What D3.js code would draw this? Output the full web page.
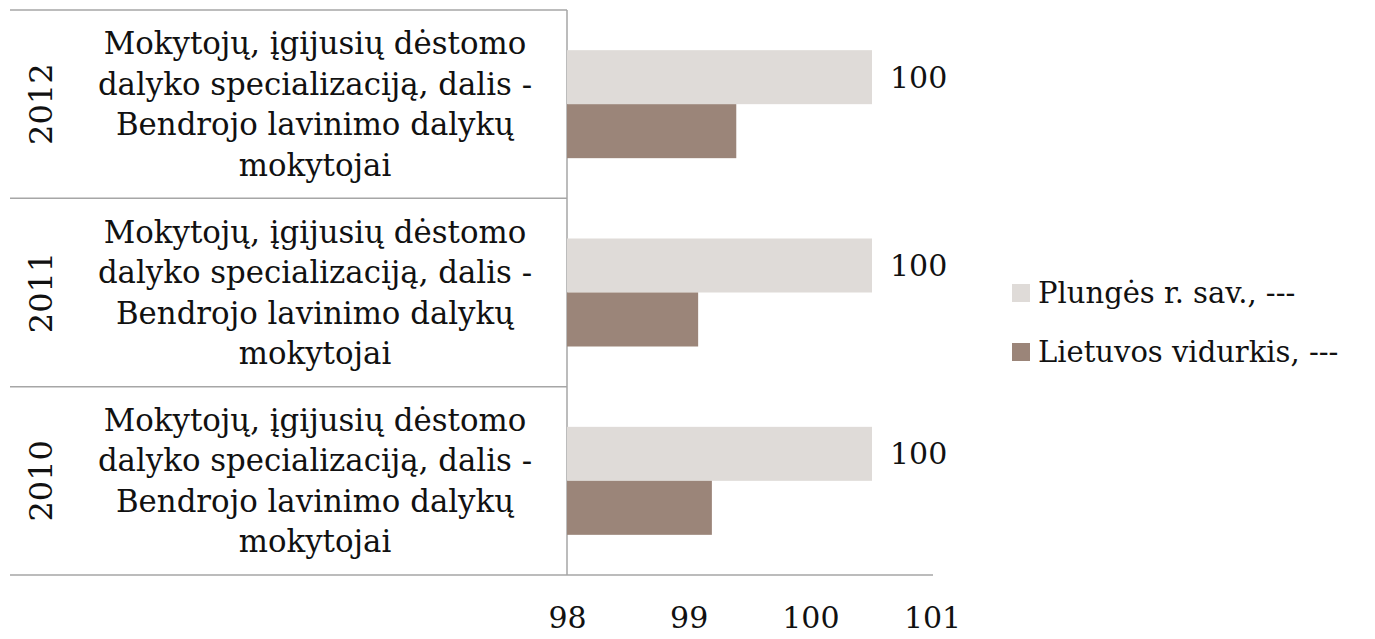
<!DOCTYPE html>
<html><head><meta charset="utf-8">
<script src="https://cdn.jsdelivr.net/npm/d3@7"></script>
<style>body{margin:0;background:#fff}svg{display:block}text{font-family:"DejaVu Serif",serif;fill:#111}</style>
</head><body>
<script>
const years = ["2012","2011","2010"];
const categoryLines = ["Mokytojų, įgijusių dėstomo","dalyko specializaciją, dalis -","Bendrojo lavinimo dalykų","mokytojai"];
const seriesNames = ["Plungės r. sav., ---","Lietuvos vidurkis, ---"];
const plunges = [100,100,100];
const lietuvos = [99.11,98.86,98.95];
const tickLabels = [98,99,100,101];
const colors = ["#dfdbd8","#9b8579"];

(function(){
const W=1375,H=639;
const svg=d3.select("body").append("svg").attr("width",W).attr("height",H);
const plotLeft=567, plotTop=10, plotBottom=575, boxLeft=10, axisRight=933;

const y=d3.scaleBand().domain(years).range([plotTop,plotBottom]);
const inner=d3.scaleBand().domain([0,1]).range([0,108]);
const x=d3.scaleLinear().domain([98,100]).range([plotLeft,872]);
const xa=d3.scaleLinear().domain([98,101]).range([plotLeft,932]);

const lineColor="#a6a6a6";
svg.append("line").attr("x1",boxLeft).attr("x2",plotLeft).attr("y1",plotTop).attr("y2",plotTop).attr("stroke",lineColor).attr("stroke-width",1.5);
years.forEach((yr,i)=>{
  if(i>0) svg.append("line").attr("x1",boxLeft).attr("x2",plotLeft).attr("y1",y(yr)).attr("y2",y(yr)).attr("stroke",lineColor).attr("stroke-width",1.5);
});
svg.append("line").attr("x1",boxLeft).attr("x2",axisRight).attr("y1",plotBottom).attr("y2",plotBottom).attr("stroke",lineColor).attr("stroke-width",1.5);
svg.append("line").attr("x1",plotLeft).attr("x2",plotLeft).attr("y1",plotTop).attr("y2",plotBottom).attr("stroke",lineColor).attr("stroke-width",1.5);

const series=[plunges,lietuvos];
const bw=y.bandwidth();
series.forEach((vals,s)=>{
  svg.append("g").selectAll("rect").data(vals).join("rect")
    .attr("x",x(98))
    .attr("y",(d,i)=>y(years[i])+(bw-108)/2+inner(s))
    .attr("width",d=>x(d)-x(98))
    .attr("height",inner.bandwidth())
    .attr("fill",colors[s]);
});
svg.append("g").selectAll("text").data(plunges).join("text")
  .attr("x",d=>x(d)+18)
  .attr("y",(d,i)=>y(years[i])+(bw-108)/2+inner(0)+inner.bandwidth()/2)
  .attr("dy","0.35em").attr("font-size",30)
  .text(d=>d);

years.forEach(yr=>{
  const cy=y(yr)+bw/2;
  const g=svg.append("g");
  g.append("text").attr("transform",`translate(52,${cy}) rotate(-90)`)
    .attr("text-anchor","middle").attr("font-size",32).text(yr);
  const lh=40.5;
  categoryLines.forEach((t,k)=>{
    g.append("text").attr("x",315).attr("y",cy+(k-1.5)*lh).attr("dy","0.35em")
      .attr("text-anchor","middle").attr("font-size",30.8).text(t);
  });
});

const ax=d3.axisBottom(xa).tickValues(tickLabels).tickSize(0).tickPadding(0).tickFormat(d3.format("d"));
const axg=svg.append("g").attr("transform",`translate(0,607)`).call(ax);
axg.select(".domain").remove();
axg.selectAll("text").attr("font-size",30).attr("font-family","DejaVu Serif").attr("fill","#111");

const lg=svg.append("g");
seriesNames.forEach((n,i)=>{
  const ly=293+i*59;
  lg.append("rect").attr("x",1012).attr("y",ly-9).attr("width",18).attr("height",18).attr("fill",colors[i]);
  lg.append("text").attr("x",1038).attr("y",ly).attr("dy","0.35em").attr("font-size",29).text(n);
});
})();
</script>
</body></html>
